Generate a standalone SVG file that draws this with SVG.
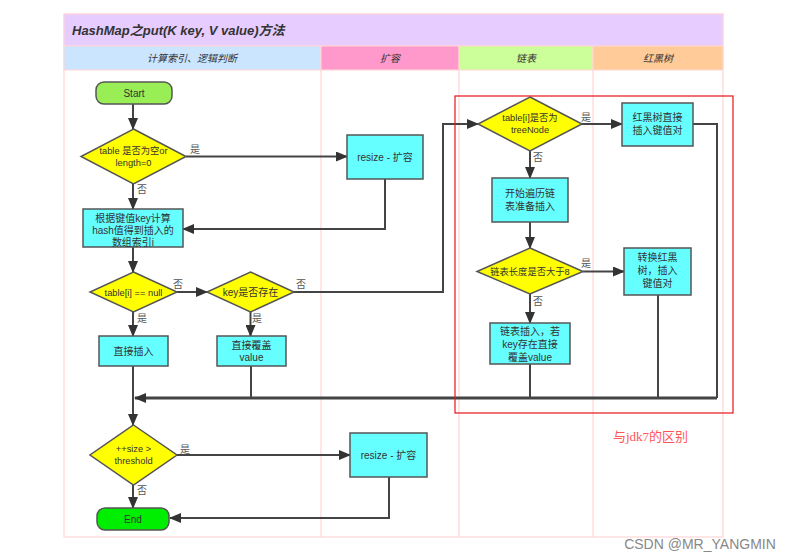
<svg xmlns="http://www.w3.org/2000/svg" width="800" height="560" viewBox="0 0 800 560">
<defs>
<marker id="arr" markerUnits="userSpaceOnUse" markerWidth="12" markerHeight="10" refX="11" refY="5" orient="auto">
<path d="M0,0 L12,5 L0,10 z" fill="#333"/>
</marker>
<style>
.hdr{font-family:"Liberation Sans","Noto Sans CJK SC",sans-serif;font-size:10px;font-style:italic;fill:#333;text-anchor:middle}
.box{fill:#66ffff;stroke:#555;stroke-width:1.5}
.dia{fill:#ffff00;stroke:#555;stroke-width:1.5}
.t{font-family:"Liberation Sans","Noto Sans CJK SC",sans-serif;font-size:10px;fill:#333;text-anchor:middle}
.td{font-family:"Liberation Sans","Noto Sans CJK SC",sans-serif;font-size:9.3px;fill:#333;text-anchor:middle}
.lbl{font-family:"Noto Sans CJK SC",sans-serif;font-size:10px;fill:#555}
.c{fill:none;stroke:#444;stroke-width:2}
.ca{fill:none;stroke:#444;stroke-width:2;marker-end:url(#arr)}
</style>
</defs>
<rect width="800" height="560" fill="#fff"/>
<g id="frame">
<rect x="64" y="14" width="659" height="523" fill="#fff" stroke="#ffd6d6" stroke-width="1.2"/>
<rect x="64" y="14" width="659" height="32" fill="#e6ccff" stroke="#ffd6d6"/>
<text x="72" y="35" font-family="Liberation Sans,Noto Sans CJK SC,sans-serif" font-size="13" font-weight="bold" font-style="italic" fill="#333">HashMap之put(K key, V value)方法</text>
<rect x="64" y="46" width="257" height="24" fill="#cce5ff" stroke="#ffd6d6"/>
<rect x="321" y="46" width="138" height="24" fill="#ff99cc" stroke="#ffd6d6"/>
<rect x="459" y="46" width="134" height="24" fill="#ccff99" stroke="#ffd6d6"/>
<rect x="593" y="46" width="130" height="24" fill="#ffcc99" stroke="#ffd6d6"/>
<text class="hdr" x="192" y="62">计算索引、逻辑判断</text>
<text class="hdr" x="390" y="62">扩容</text>
<text class="hdr" x="526" y="62">链表</text>
<text class="hdr" x="658" y="62">红黑树</text>
<line x1="321" y1="70" x2="321" y2="537" stroke="#ffd6d6" stroke-width="1.2"/>
<line x1="459" y1="70" x2="459" y2="537" stroke="#ffd6d6" stroke-width="1.2"/>
<line x1="593" y1="70" x2="593" y2="537" stroke="#ffd6d6" stroke-width="1.2"/>
</g>
<g id="connectors">
<path class="ca" d="M133,104 V129"/>
<path class="ca" d="M186,156.5 H347"/>
<path class="ca" d="M133,184 V209"/>
<path class="ca" d="M385,179 V229 H183"/>
<path class="ca" d="M133,247 V272"/>
<path class="ca" d="M177,292 H207"/>
<path class="ca" d="M294,292 H443 V124 H478"/>
<path class="ca" d="M133,312 V336"/>
<path class="ca" d="M250.5,312 V336"/>
<path class="c" d="M251,366 V398"/>
<path class="ca" d="M582,124 H622"/>
<path class="c" d="M693,124 H717 V398"/>
<path class="ca" d="M530,151 V178"/>
<path class="ca" d="M530,222 V248"/>
<path class="ca" d="M583,271.5 H624"/>
<path class="c" d="M658,295 V398"/>
<path class="ca" d="M530,294 V323"/>
<path class="c" d="M530,364 V398"/>
<path d="M717,398 H135" fill="none" stroke="#444" stroke-width="3" marker-end="url(#arr)"/>
<path class="ca" d="M133,366 V425"/>
<path class="ca" d="M177,455 H350"/>
<path class="ca" d="M389,477 V518 H170"/>
<path class="ca" d="M133,485 V508"/>
<text class="lbl" x="190" y="153">是</text>
<text class="lbl" x="137" y="193">否</text>
<text class="lbl" x="173" y="288">否</text>
<text class="lbl" x="137" y="322">是</text>
<text class="lbl" x="296" y="288">否</text>
<text class="lbl" x="252" y="322">是</text>
<text class="lbl" x="581" y="121">是</text>
<text class="lbl" x="533" y="161">否</text>
<text class="lbl" x="581" y="267">是</text>
<text class="lbl" x="533" y="305">否</text>
<text class="lbl" x="180" y="453">是</text>
<text class="lbl" x="137" y="494">否</text>
</g>
<g id="start"><rect x="96" y="82" width="76" height="22" rx="8" fill="#99ee55" stroke="#555" stroke-width="1.5"/><text class="t" x="134" y="97">Start</text></g>
<g id="d-empty"><polygon class="dia" points="133.5,129 186,156.5 133.5,184 81,156.5"/><text class="td" x="133.5" y="154">table 是否为空or</text><text class="td" x="133.5" y="166">length=0</text></g>
<g id="resize1"><rect class="box" x="347" y="135" width="76" height="44"/><text class="t" x="385" y="161">resize - 扩容</text></g>
<g id="hash"><rect class="box" x="83" y="209" width="100" height="38"/><text class="t" x="133" y="222">根据键值key计算</text><text class="t" x="133" y="234">hash值得到插入的</text><text class="t" x="133" y="246">数组索引i</text></g>
<g id="d-null"><polygon class="dia" points="133.5,272 177,292 133.5,312 90,292"/><text class="td" x="133.5" y="296">table[i] == null</text></g>
<g id="d-key"><polygon class="dia" points="250.5,272 294,292 250.5,312 207,292"/><text class="t" x="250.5" y="296">key是否存在</text></g>
<g id="insert"><rect class="box" x="99" y="336" width="69" height="30"/><text class="t" x="133.5" y="355">直接插入</text></g>
<g id="cover"><rect class="box" x="217" y="336" width="69" height="30"/><text class="t" x="251.5" y="349">直接覆盖</text><text class="t" x="251.5" y="361">value</text></g>
<g id="d-tree"><polygon class="dia" points="530,97 582,124 530,151 478,124"/><text class="td" x="530" y="121">table[i]是否为</text><text class="td" x="530" y="133">treeNode</text></g>
<g id="rb-insert"><rect class="box" x="622" y="103" width="71" height="43"/><text class="t" x="657.5" y="121">红黑树直接</text><text class="t" x="657.5" y="134">插入键值对</text></g>
<g id="traverse"><rect class="box" x="492" y="178" width="76" height="44"/><text class="t" x="530" y="197">开始遍历链</text><text class="t" x="530" y="210">表准备插入</text></g>
<g id="d-len"><polygon class="dia" points="530,248 583,271.5 530,294 477,271.5"/><text class="td" x="530" y="275">链表长度是否大于8</text></g>
<g id="convert"><rect class="box" x="624" y="248" width="67" height="47"/><text class="t" x="657.5" y="261">转换红黑</text><text class="t" x="657.5" y="274">树，插入</text><text class="t" x="657.5" y="287">键值对</text></g>
<g id="list-insert"><rect class="box" x="490" y="323" width="80" height="41"/><text class="t" x="530" y="335">链表插入，若</text><text class="t" x="530" y="348">key存在直接</text><text class="t" x="530" y="361">覆盖value</text></g>
<g id="d-size"><polygon class="dia" points="133.5,425 177,455 133.5,485 90,455"/><text class="td" x="133.5" y="452">++size &gt;</text><text class="td" x="133.5" y="464">threshold</text></g>
<g id="resize2"><rect class="box" x="350" y="433" width="77" height="44"/><text class="t" x="388.5" y="459">resize - 扩容</text></g>
<g id="end"><rect x="97" y="508" width="72" height="22" rx="8" fill="#00ee00" stroke="#555" stroke-width="1.5"/><text class="t" x="133" y="523">End</text></g>
<g id="highlight">
<rect x="455" y="96" width="278" height="317" fill="none" stroke="#e8141a" stroke-width="1.2"/>
<text x="613" y="441" font-family="Liberation Serif,Noto Sans CJK SC,serif" font-size="13" fill="#ff5555">与jdk7的区别</text>
</g>
<text x="700" y="549" text-anchor="middle" font-family="Liberation Sans,sans-serif" font-size="14" fill="#888">CSDN @MR_YANGMIN</text>
</svg>
